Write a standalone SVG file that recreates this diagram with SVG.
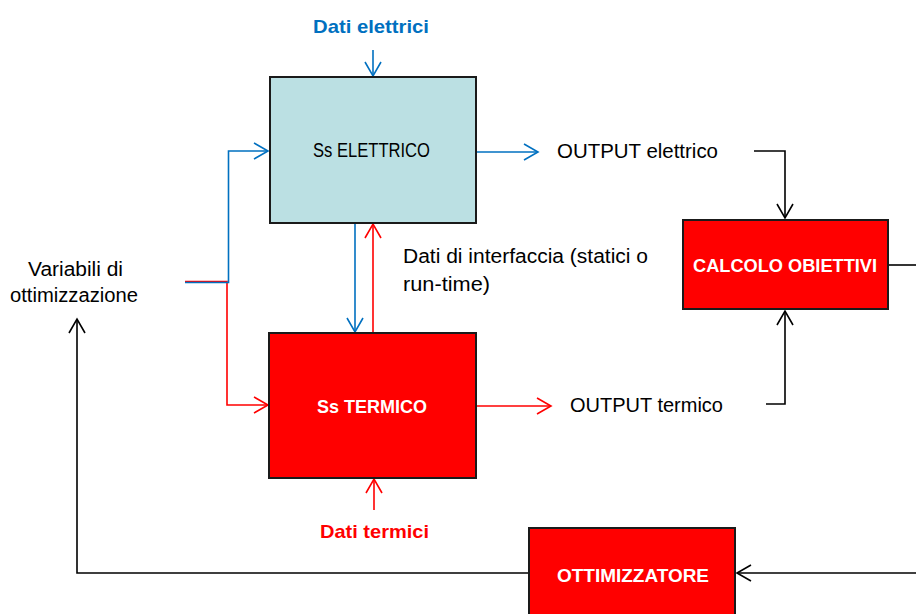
<svg xmlns="http://www.w3.org/2000/svg" width="916" height="614" viewBox="0 0 916 614">
  <defs>
    <style>
      .txt { font-family: "Liberation Sans", Arial, sans-serif; font-size: 20px; fill: #000; }
      .bold { font-weight: bold; font-size: 19px; }
      .white { fill: #fff; }
      .blue-t { fill: #0070C0; }
      .red-t { fill: #FF0000; }
      .box { stroke: #1a1a1a; stroke-width: 2; }
      .teal { fill: #BBE0E3; }
      .red { fill: #FF0000; }
      .ln { fill: none; stroke-width: 1.6; }
      .lb { stroke: #0070C0; marker-end: url(#ahB); }
      .lr { stroke: #FF0000; marker-end: url(#ahR); }
      .lk { stroke: #000; marker-end: url(#ahK); }
    </style>
    <marker id="ahB" markerUnits="userSpaceOnUse" viewBox="-16 -10 18 20" refX="0" refY="0" markerWidth="18" markerHeight="20" orient="auto">
      <path d="M-14,-8 L0,0 L-14,8" fill="none" stroke="#0070C0" stroke-width="1.6"/>
    </marker>
    <marker id="ahR" markerUnits="userSpaceOnUse" viewBox="-16 -10 18 20" refX="0" refY="0" markerWidth="18" markerHeight="20" orient="auto">
      <path d="M-14,-8 L0,0 L-14,8" fill="none" stroke="#FF0000" stroke-width="1.6"/>
    </marker>
    <marker id="ahK" markerUnits="userSpaceOnUse" viewBox="-16 -10 18 20" refX="0" refY="0" markerWidth="18" markerHeight="20" orient="auto">
      <path d="M-14,-8 L0,0 L-14,8" fill="none" stroke="#000" stroke-width="1.6"/>
    </marker>
  </defs>

  <rect width="916" height="614" fill="#fff"/>

  <!-- connectors -->
  <g id="connectors">
    <!-- optimisation variables feed: red branch to thermal, blue branch to electric -->
    <path class="ln lr" d="M185,281.5 H227 V405 H268"/>
    <path class="ln lb" d="M185,282.5 H228.5 V151 H268"/>
    <!-- electric data in -->
    <path class="ln lb" d="M373,50 V76"/>
    <!-- interface data between subsystems -->
    <path class="ln lb" d="M355,224 V332"/>
    <path class="ln lr" d="M373,332 V224"/>
    <!-- thermal data in -->
    <path class="ln lr" d="M374,510 V479"/>
    <!-- subsystem outputs -->
    <path class="ln lb" d="M477,152 H538"/>
    <path class="ln lr" d="M477,406 H551"/>
    <!-- outputs to objective calculation -->
    <path class="ln lk" d="M754,151 H785 V218"/>
    <path class="ln lk" d="M766,404 H785 V311"/>
    <!-- objectives out to the right, back into optimiser -->
    <path class="ln" stroke="#000" d="M889,265 H916"/>
    <path class="ln lk" d="M916,573 H737"/>
    <!-- optimiser back to variables -->
    <path class="ln lk" d="M529,573 H77 V319"/>
  </g>

  <g id="ss-elettrico">
    <rect class="box teal" x="270" y="77" width="206" height="146"/>
    <text class="txt" x="313" y="157" textLength="117" lengthAdjust="spacingAndGlyphs">Ss ELETTRICO</text>
  </g>

  <g id="ss-termico">
    <rect class="box red" x="269" y="333" width="207" height="145"/>
    <text class="txt bold white" x="317" y="413" textLength="110" lengthAdjust="spacingAndGlyphs">Ss TERMICO</text>
  </g>

  <g id="calcolo-obiettivi">
    <rect class="box red" x="683" y="220" width="205" height="89"/>
    <text class="txt bold white" x="693" y="272" textLength="184" lengthAdjust="spacingAndGlyphs">CALCOLO OBIETTIVI</text>
  </g>

  <g id="ottimizzatore">
    <rect class="box red" x="529" y="528" width="206" height="100"/>
    <text class="txt bold white" x="557" y="582" textLength="152" lengthAdjust="spacingAndGlyphs">OTTIMIZZATORE</text>
  </g>

  <g id="dati-elettrici">
    <text class="txt bold blue-t" x="313" y="33" textLength="116" lengthAdjust="spacingAndGlyphs">Dati elettrici</text>
  </g>

  <g id="dati-termici">
    <text class="txt bold red-t" x="320" y="538" textLength="109" lengthAdjust="spacingAndGlyphs">Dati termici</text>
  </g>

  <g id="output-elettrico">
    <text class="txt" x="557" y="158" textLength="161" lengthAdjust="spacingAndGlyphs">OUTPUT elettrico</text>
  </g>

  <g id="output-termico">
    <text class="txt" x="570" y="412" textLength="153" lengthAdjust="spacingAndGlyphs">OUTPUT termico</text>
  </g>

  <g id="dati-interfaccia">
    <text class="txt" x="403" y="263" textLength="245" lengthAdjust="spacingAndGlyphs">Dati di interfaccia (statici o</text>
    <text class="txt" x="403" y="291" textLength="87" lengthAdjust="spacingAndGlyphs">run-time)</text>
  </g>

  <g id="variabili">
    <text class="txt" x="28" y="276" textLength="95" lengthAdjust="spacingAndGlyphs">Variabili di</text>
    <text class="txt" x="10" y="302" textLength="128" lengthAdjust="spacingAndGlyphs">ottimizzazione</text>
  </g>
</svg>
